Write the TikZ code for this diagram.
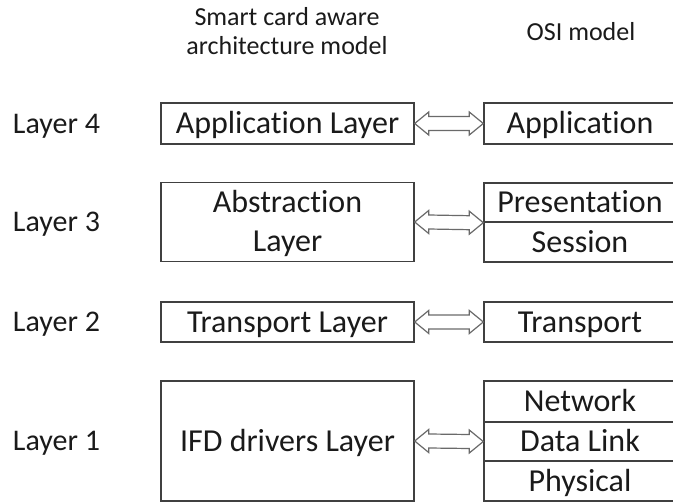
\documentclass[tikz,border=0pt]{standalone}
\usepackage{fontspec}
\setmainfont{Carlito}[Ligatures=NoCommon]
\usetikzlibrary{calc}
\definecolor{boxline}{HTML}{404040}
\definecolor{arrline}{HTML}{6A6A6A}
\definecolor{txt}{HTML}{1A1A1A}
\newcommand\dblarr[2]{\draw[dblarrow] (#1) -- ++(14,-11.5) -- ++(0,4.5) -- ($(#2)+(-14,-7)$) -- ++(0,-4.5) -- (#2) -- ++(-14,11.5) -- ++(0,-4.5) -- ($(#1)+(14,7)$) -- ++(0,4.5) -- cycle;}
\begin{document}
\begin{tikzpicture}[x=1pt,y=-1pt,
  every node/.style={text=txt, inner sep=0pt},
  boxtext/.style={font=\fontsize{32}{39}\selectfont, text height=20.6pt, text depth=0pt},
  lbox/.style={boxtext, draw=boxline, line width=1.4pt, minimum width=253pt},
  rbox/.style={boxtext, draw=boxline, line width=1.4pt, minimum width=192pt},
  lbl/.style={font=\fontsize{30}{36}\selectfont, text height=19.3pt, text depth=0pt},
  hdr/.style={font=\fontsize{26}{29}\selectfont, align=center},
  dblarrow/.style={draw=arrline, line width=1.2pt, fill=white, line join=miter}
]
\clip (0,0) rectangle (673,503);
% headers
\node[hdr] (h1) at (287,31) {Smart card aware\\architecture model};
\node[hdr] (h2) at (581,32) {OSI model};
% layer labels
\node[lbl] (l4) at (56.5,123.5) {Layer 4};
\node[lbl] (l3) at (56.5,222) {Layer 3};
\node[lbl] (l2) at (56.5,322) {Layer 2};
\node[lbl] (l1) at (56.5,441) {Layer 1};
% left column
\node[lbox, minimum height=41pt] (app) at (287.5,123.5) {Application Layer};
\node[lbox, minimum height=79pt, align=center, text height=59.6pt] (abs) at (287.5,222) {Abstraction\\Layer};
\node[lbox, minimum height=40pt] (tl) at (287.5,322) {Transport Layer};
\node[lbox, minimum height=120pt] (ifd) at (287.5,441) {IFD drivers Layer};
% right column
\node[rbox, minimum height=41pt] (oapp) at (580,123.5) {Application};
\node[rbox, minimum height=39pt] (pres) at (580,202.5) {Presentation};
\node[rbox, minimum height=40pt] (sess) at (580,242) {Session};
\node[rbox, minimum height=40pt] (otr) at (580,322) {Transport};
\node[rbox, minimum height=41pt] (net) at (580,401.5) {Network};
\node[rbox, minimum height=39pt] (dl) at (580,441.5) {Data Link};
\node[rbox, minimum height=40pt] (phy) at (580,481) {Physical};
% arrows
\dblarr{app.east}{oapp.west}
\dblarr{abs.east}{pres.south west}
\dblarr{tl.east}{otr.west}
\dblarr{ifd.east}{dl.west}
\end{tikzpicture}
\end{document}
